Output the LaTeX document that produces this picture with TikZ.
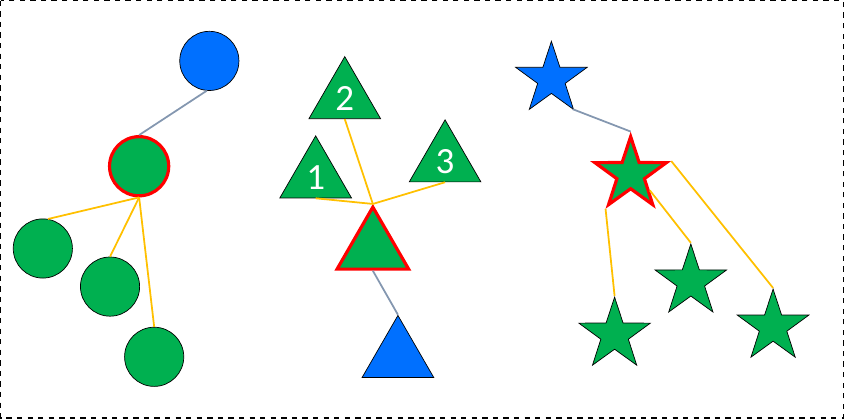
\documentclass[tikz,border=0pt]{standalone}
\usepackage{fontspec}
\setmainfont{Carlito}
\usetikzlibrary{shapes.geometric}
\definecolor{cblue}{RGB}{0,112,255}
\definecolor{cgreen}{RGB}{0,176,80}
\definecolor{cgold}{RGB}{255,192,0}
\definecolor{cgray}{RGB}{132,151,176}

\begin{document}
\begin{tikzpicture}
  [
    x=0.02cm, y=-0.02cm,
    Ball/.style={circle, draw=black, fill=cgreen, thin, minimum size=1.18cm, inner sep=0pt},
    Tri/.style={regular polygon, regular polygon sides=3, draw=black, fill=cgreen, thin, minimum size=1.65cm, inner sep=0pt, text=white, font=\fontsize{21}{21}\selectfont},
    Star/.style={star, star points=5, star point ratio=2.6, draw=black, fill=cgreen, thin, minimum size=1.5cm, inner sep=0pt},
    Root/.style={draw=red, line width=1.8pt},
    Top/.style={fill=cblue},
    Up/.style={draw=cgray, line width=1pt},
    Down/.style={draw=cgold, line width=1pt}
  ]
  \draw[dashed, thick] (2,2) rectangle (842,418);

  % Circles
  \node[Ball, Top] (cb) at (210,62) {};
  \node[Ball, Root] (cr) at (140,167) {};
  \node[Ball] (c1) at (44,249) {};
  \node[Ball] (c2) at (111,287) {};
  \node[Ball] (c3) at (155,357) {};

  % Triangles
  \node[Tri] (t2) at (345,99) {2};
  \node[Tri] (t1) at (316,178) {1};
  \node[Tri] (t3) at (445,162) {3};
  \node[Tri, Root] (tr) at (373,249) {};
  \node[Tri, Top] (tb) at (398,357) {};

  % Stars
  \node[Star, Top] (sb) at (551,80) {};
  \node[Star, Root] (sr) at (630,175) {};
  \node[Star] (s1) at (614,335) {};
  \node[Star] (s2) at (690,282) {};
  \node[Star] (s3) at (772,327) {};

  % Lines
  \path[Up] (cb.-95) -- (cr.north);
  \path[Down] (cr.south) -- (c1.80);
  \path[Down] (cr.south) -- (c2.north);
  \path[Down] (cr.south) -- (c3.north);

  \path[Down] (tr.corner 1) -- (t2.south);
  \path[Down] (tr.corner 1) -- (t1.south);
  \path[Down] (tr.corner 1) -- (t3.south);
  \path[Up] (tr.south) -- (tb.corner 1);

  \path[Up] (sb.-55) -- (sr.north);
  \path[Down] (sr.outer point 3) -- (s1.north);
  \path[Down] (sr.-40) -- (s2.north);
  \path[Down] (sr.outer point 5) -- (s3.north);
\end{tikzpicture}
\end{document}
